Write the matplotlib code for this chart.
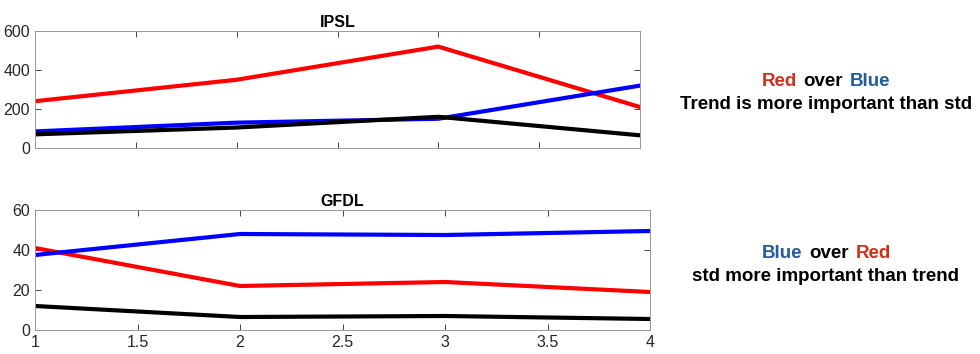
import numpy as np
import matplotlib.pyplot as plt
from matplotlib.offsetbox import TextArea, HPacker, VPacker, AnnotationBbox

plt.rcParams['font.family'] = ['Liberation Sans', 'DejaVu Sans']

# ---------------- data
x = [1, 2, 3, 4]
ipsl_red = [240, 350, 520, 210]
ipsl_blue = [85, 130, 150, 320]
ipsl_black = [70, 105, 160, 65]

gfdl_red = [41, 22, 24, 19]
gfdl_blue = [37.5, 48, 47.5, 49.5]
gfdl_black = [12, 6.5, 7, 5.5]

xticks = [1, 1.5, 2, 2.5, 3, 3.5, 4]
xticklabels = ['1', '1.5', '2', '2.5', '3', '3.5', '4']

ax_col = '#262626'
txt_red = '#d0301c'
txt_blue = '#235c98'

fig = plt.figure(figsize=(9.8, 3.54), dpi=100)
ax1 = fig.add_axes([35/980, 1-148/354, 605/980, 117/354])
ax2 = fig.add_axes([35/980, 1-330/354, 615/980, 120/354])


def style(ax, title, ymax, yticks):
    ax.set_xlim(1, 4)
    ax.set_ylim(0, ymax)
    ax.set_yticks(yticks)
    ax.set_xticks(xticks)
    ax.tick_params(direction='in', length=4, colors=ax_col, labelsize=11.5,
                   top=True, right=True, width=0.6)
    for s in ax.spines.values():
        s.set_color('#999999')
        s.set_linewidth(0.7)
    ax.set_title(title, fontsize=11.5, fontweight='bold', pad=3)


lw = 3
ax1.plot(x, ipsl_red, color='red', lw=lw)
ax1.plot(x, ipsl_blue, color='blue', lw=lw)
ax1.plot(x, ipsl_black, color='black', lw=lw)
style(ax1, 'IPSL', 600, [0, 200, 400, 600])
ax1.set_xticklabels([])

ax2.plot(x, gfdl_red, color='red', lw=lw)
ax2.plot(x, gfdl_blue, color='blue', lw=lw)
ax2.plot(x, gfdl_black, color='black', lw=lw)
style(ax2, 'GFDL', 60, [0, 20, 40, 60])
ax2.set_xticklabels(xticklabels)


def note(words, line2, xy):
    fs = 13.5
    parts = [TextArea(w, textprops=dict(color=c, fontsize=fs, fontweight='bold'))
             for w, c in words]
    top = HPacker(children=parts, align='baseline', pad=0, sep=5)
    bot = TextArea(line2, textprops=dict(color='black', fontsize=fs, fontweight='bold'))
    box = VPacker(children=[top, bot], align='center', pad=0, sep=4)
    ab = AnnotationBbox(box, xy, xycoords='figure pixels', frameon=False)
    fig.add_artist(ab)


note([('Red', txt_red), ('over', 'black'), ('Blue', txt_blue)],
     'Trend is more important than std', (826, 354-93))
note([('Blue', txt_blue), ('over', 'black'), ('Red', txt_red)],
     'std more important than trend', (826, 354-265))

plt.savefig('out.png', dpi=100)
